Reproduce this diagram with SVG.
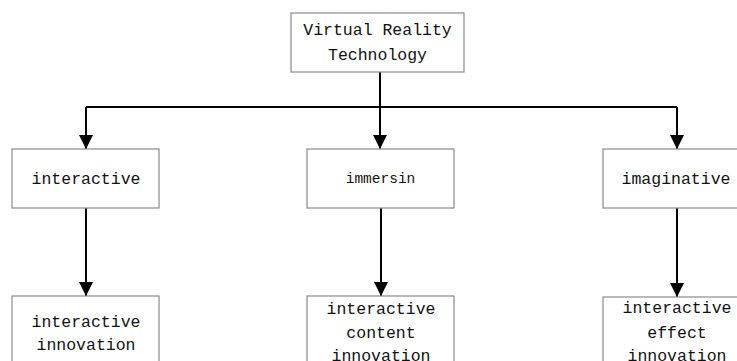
<svg xmlns="http://www.w3.org/2000/svg" width="737" height="361" viewBox="0 0 737 361">
<style>
.box{fill:#fff;stroke:#8a8a8a;stroke-width:1.2}
.t{font-family:"Liberation Mono","DejaVu Sans Mono",monospace;font-size:16.5px;fill:#111;text-anchor:middle}
.s{font-size:14.5px}
.c{fill:none;stroke:#000;stroke-width:2}
</style>
<defs>
<marker id="ah" markerUnits="userSpaceOnUse" markerWidth="14" markerHeight="18" refX="14" refY="7" orient="auto">
<path d="M0,0 L14,7 L0,14 Z" fill="#000"/>
</marker>
</defs>
<g id="connectors">
<path class="c" d="M380,72 V107"/>
<path class="c" d="M86,107 H677"/>
<path class="c" d="M86,107 V149" marker-end="url(#ah)"/>
<path class="c" d="M380,107 V149" marker-end="url(#ah)"/>
<path class="c" d="M677,107 V149" marker-end="url(#ah)"/>
<path class="c" d="M86,208 V296" marker-end="url(#ah)"/>
<path class="c" d="M381,208 V296" marker-end="url(#ah)"/>
<path class="c" d="M677,208 V297" marker-end="url(#ah)"/>
</g>
<g id="vrt">
<rect class="box" x="291" y="13" width="173" height="59"/>
<text class="t" x="377.5" y="35">Virtual Reality</text>
<text class="t" x="377.5" y="60">Technology</text>
</g>
<g id="interactive">
<rect class="box" x="12" y="149" width="147" height="59"/>
<text class="t" x="86" y="184">interactive</text>
</g>
<g id="immersin">
<rect class="box" x="307" y="149" width="147" height="59"/>
<text class="t s" x="380.5" y="183">immersin</text>
</g>
<g id="imaginative">
<rect class="box" x="603" y="149" width="140" height="59"/>
<text class="t" x="676" y="184">imaginative</text>
</g>
<g id="interactive-innovation">
<rect class="box" x="12" y="296" width="147" height="80"/>
<text class="t" x="86" y="327">interactive</text>
<text class="t" x="86" y="350">innovation</text>
</g>
<g id="interactive-content-innovation">
<rect class="box" x="307" y="296" width="147" height="80"/>
<text class="t" x="381" y="314">interactive</text>
<text class="t" x="381" y="338">content</text>
<text class="t" x="381" y="361">innovation</text>
</g>
<g id="interactive-effect-innovation">
<rect class="box" x="603" y="297" width="140" height="80"/>
<text class="t" x="677" y="313">interactive</text>
<text class="t" x="677" y="338">effect</text>
<text class="t" x="677" y="361">innovation</text>
</g>
</svg>
